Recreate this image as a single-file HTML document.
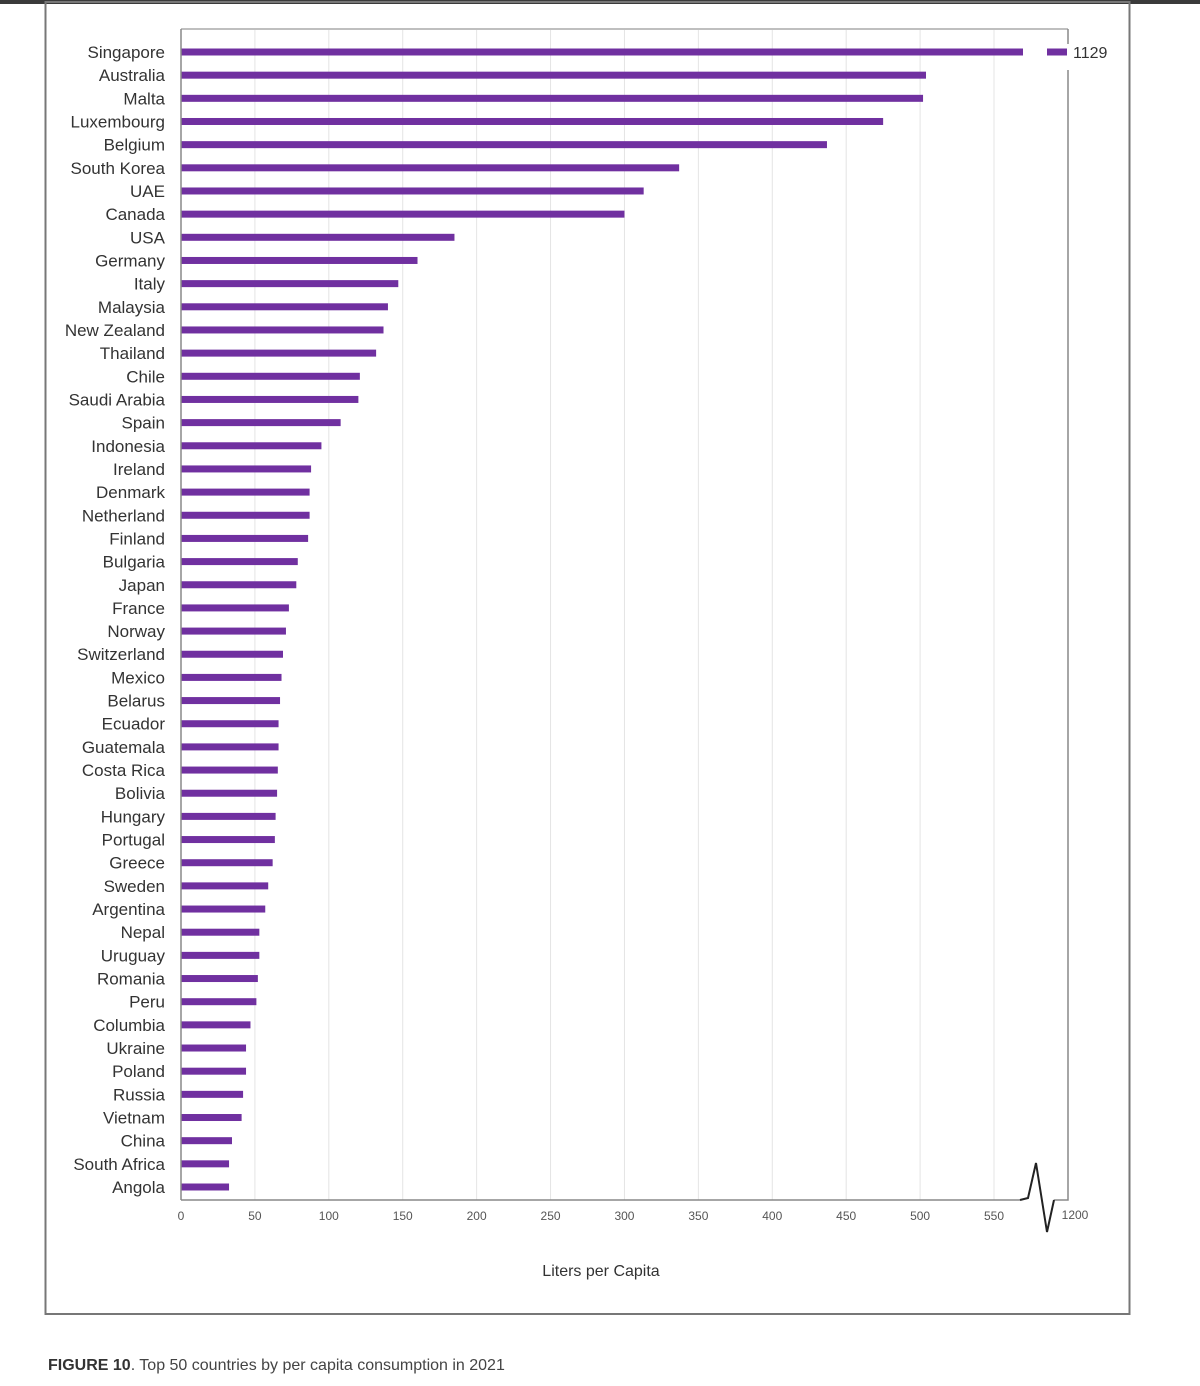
<!DOCTYPE html>
<html><head><meta charset="utf-8"><style>
body{margin:0;background:#fff;width:1200px;height:1381px;overflow:hidden;font-family:"Liberation Sans",sans-serif}
</style></head><body>
<svg id="chart" width="1200" height="1381" xmlns="http://www.w3.org/2000/svg" font-family="Liberation Sans, sans-serif">
<rect x="0" y="0" width="1200" height="4" fill="#3a3a3a"/>
<rect x="45.5" y="2" width="1084" height="1312" fill="none" stroke="#777" stroke-width="2"/>
<g id="grid"></g>
<g id="bars"></g>
<g id="labels"></g>
<g id="ticks"></g>
<line x1="181" y1="29" x2="1068" y2="29" stroke="#aaa" stroke-width="1.5"/>
<line x1="181" y1="29" x2="181" y2="1200" stroke="#888" stroke-width="1.5"/>
<polyline points="1068,29 1068,44" fill="none" stroke="#888" stroke-width="1.5"/>
<polyline points="1068,70 1068,1200 1054,1200" fill="none" stroke="#888" stroke-width="1.5"/>
<polyline points="181,1200 1020,1200" fill="none" stroke="#888" stroke-width="1.5"/>
<polyline points="1020,1200 1028,1198 1036,1163 1047,1232 1054,1200" fill="none" stroke="#222" stroke-width="2"/>
<text x="601" y="1276" text-anchor="middle" font-size="16" fill="#333">Liters per Capita</text>
<text x="48" y="1370" font-size="16" fill="#444"><tspan font-weight="bold" fill="#333">FIGURE 10</tspan>. Top 50 countries by per capita consumption in 2021</text>
</svg>
<script>
const countries=["Singapore","Australia","Malta","Luxembourg","Belgium","South Korea","UAE","Canada","USA","Germany","Italy","Malaysia","New Zealand","Thailand","Chile","Saudi Arabia","Spain","Indonesia","Ireland","Denmark","Netherland","Finland","Bulgaria","Japan","France","Norway","Switzerland","Mexico","Belarus","Ecuador","Guatemala","Costa Rica","Bolivia","Hungary","Portugal","Greece","Sweden","Argentina","Nepal","Uruguay","Romania","Peru","Columbia","Ukraine","Poland","Russia","Vietnam","China","South Africa","Angola"];
const values=[1129,504,502,475,437,337,313,300,185,160,147,140,137,132,121,120,108,95,88,87,87,86,79,78,73,71,69,68,67,66,66,65.5,65,64,63.5,62,59,57,53,53,52,51,47,44,44,42,41,34.5,32.5,32.5];
const ticks=[0,50,100,150,200,250,300,350,400,450,500,550];
const breakTick=[1200];
const NS="http://www.w3.org/2000/svg";
const x0=181, pxPer=(994-181)/550, breakStart=570, breakX=1023;
function xs(v){return x0+v*pxPer;}
function ys(i){return 52+i*(1187-52)/49;}
function mk(tag,attrs,parent){const e=document.createElementNS(NS,tag);for(const k in attrs)e.setAttribute(k,attrs[k]);document.getElementById(parent).appendChild(e);return e;}
ticks.forEach(t=>{
  if(t>0){const g=mk('line',{x1:xs(t),x2:xs(t),y1:30,y2:1200,stroke:'#e4e4e4','stroke-width':1},'grid');
  
  }
  const l=mk('text',{x:xs(t),y:1220,'text-anchor':'middle','font-size':12,fill:'#555'},'ticks');
  l.textContent=t;
  
  
});
breakTick.forEach(t=>{
  const l=mk('text',{x:1075,y:1219,'text-anchor':'middle','font-size':12,fill:'#555'},'ticks');
  l.textContent=t;
  
  
});
countries.forEach((c,i)=>{
  const v=values[i], y=ys(i);
  if(v>breakStart){
    const b=mk('rect',{x:x0,y:y-3.5,width:breakX-x0,height:7,fill:'#7030a0'},'bars');
    
    
    const b2=mk('rect',{x:1047,y:y-3.5,width:20,height:7,fill:'#7030a0'},'bars');
    
    
    const vl=mk('text',{x:1073,y:y+6,'font-size':16,fill:'#333'},'labels');
    vl.textContent=v;
    
    
  } else {
    const b=mk('rect',{x:x0,y:y-3.5,width:xs(v)-x0,height:7,fill:'#7030a0'},'bars');
    
    
  }
  const t=mk('text',{x:165,y:y+6,'text-anchor':'end','font-size':17,fill:'#333'},'labels');
  t.textContent=c;
  
  
});
</script>
</body></html>
